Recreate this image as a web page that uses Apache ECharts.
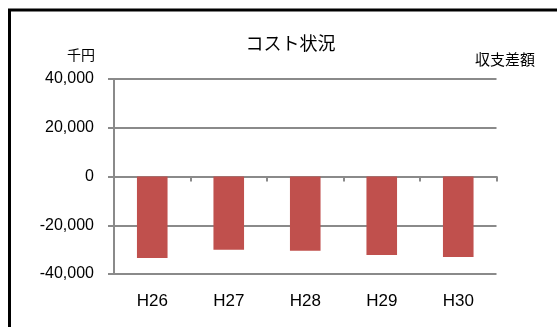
<!DOCTYPE html>
<html><head><meta charset="utf-8">
<script src="https://cdn.jsdelivr.net/npm/echarts@6/dist/echarts.min.js"></script>
<style>html,body{margin:0;padding:0;background:#fff}#c{width:557px;height:327px}</style>
</head><body><div id="c"></div>
<script>
const categories = ['H26','H27','H28','H29','H30'];
const values = [-33400, -30100, -30500, -32200, -33000];
const titleText = 'コスト状況';
const unitLabel = '千円';
const seriesLabel = '収支差額';

const chart = echarts.init(document.getElementById('c'), null, {renderer:'canvas'});
const font = '"Liberation Sans", "Noto Sans CJK JP", sans-serif';
const cjk = '"Noto Sans CJK JP", sans-serif';
chart.setOption({
  animation:false,
  backgroundColor:'#fff',
  graphic:[
    {type:'line', shape:{x1:8, y1:10, x2:557, y2:10}, style:{stroke:'#000', lineWidth:3}},
    {type:'line', shape:{x1:9.5, y1:9, x2:9.5, y2:327}, style:{stroke:'#000', lineWidth:3}},
    {type:'text', x:290.5, y:43.5, style:{text:titleText, fontFamily:cjk, fontSize:18, fill:'#000', align:'center', verticalAlign:'middle'}},
    {type:'text', x:81, y:55, style:{text:unitLabel, fontFamily:cjk, fontSize:14, fill:'#000', align:'center', verticalAlign:'middle'}},
    {type:'text', x:505, y:59, style:{text:seriesLabel, fontFamily:cjk, fontSize:15, fill:'#000', align:'center', verticalAlign:'middle'}}
  ],
  grid:{left:114, right:60.5, top:79, bottom:53},
  xAxis:[
    {type:'category', data:categories, position:'bottom',
     axisLine:{onZero:true, lineStyle:{color:'#8a8a8a', width:2}},
     axisTick:{show:true, length:5, lineStyle:{color:'#8a8a8a', width:2}},
     axisLabel:{show:false}, splitLine:{show:false}},
    {type:'category', data:categories, position:'bottom',
     axisLine:{show:false}, axisTick:{show:false},
     axisLabel:{show:true, margin:19, fontFamily:font, fontSize:17, color:'#000'}}
  ],
  yAxis:{type:'value', min:-40000, max:40000, interval:20000,
    axisLine:{show:true, lineStyle:{color:'#8a8a8a', width:2}},
    axisTick:{show:true, length:6, lineStyle:{color:'#8a8a8a', width:2}},
    axisLabel:{margin:20, fontFamily:font, fontSize:16, color:'#000'},
    splitLine:{lineStyle:{color:'#8a8a8a', width:2}}},
  series:[{type:'bar', data:values, barWidth:'40%', itemStyle:{color:'#C0504D'}, xAxisIndex:0}]
});
</script></body></html>
